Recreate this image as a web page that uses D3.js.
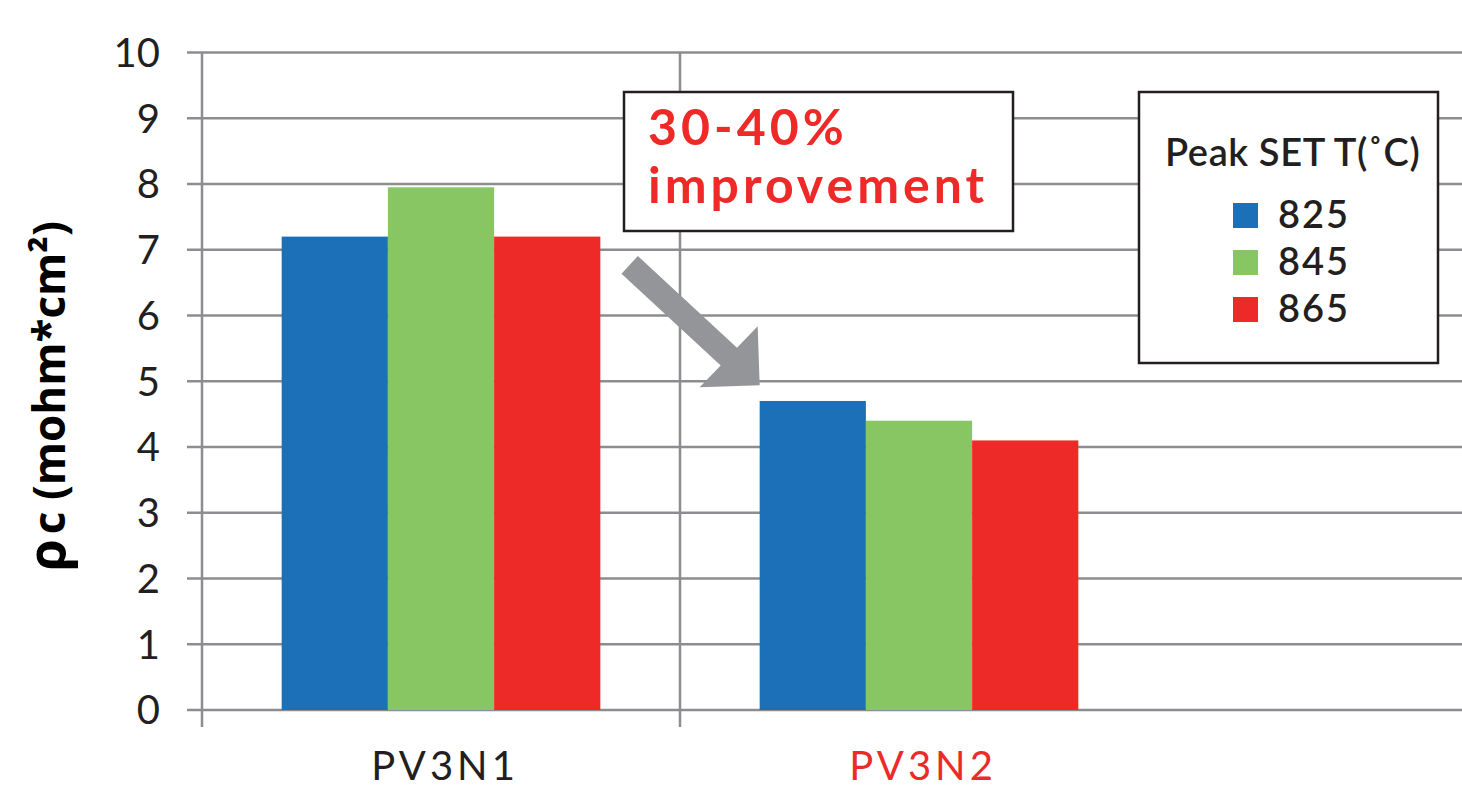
<!DOCTYPE html>
<html>
<head>
<meta charset="utf-8">
<script src="https://cdn.jsdelivr.net/npm/d3@7"></script>
<style>
  html, body { margin: 0; padding: 0; background: #fff; }
  svg { display: block; }
  text { font-family: Lato, "Open Sans", sans-serif; }
</style>
</head>
<body>
<svg id="chart" width="1462" height="788"></svg>
<script>
// ---- data ----
const categories = ["PV3N1", "PV3N2"];
const series = ["825", "845", "865"];
const values825 = [7.2, 4.7];
const values845 = [7.95, 4.4];
const values865 = [7.2, 4.1];
const yTicks = [0, 1, 2, 3, 4, 5, 6, 7, 8, 9, 10];
const legendTitle = "Peak SET T(\u02DAC)";
const annotationLines = ["30-40%", "improvement"];

const seriesValues = { "825": values825, "845": values845, "865": values865 };
const colors = { "825": "#1c70b7", "845": "#88c663", "865": "#ee2a28" };
const gridColor = "#8c8d90";

const svg = d3.select("#chart");
const W = 1462;

const y = d3.scaleLinear().domain([0, 10]).range([710, 52.5]);
const x = d3.scaleBand().domain(categories).range([202, 1158]).padding(0);
const bw = x.bandwidth();
const x1 = d3.scaleBand().domain(series).range([bw / 6, bw * 5 / 6]).padding(0);

// horizontal gridlines
svg.append("g").selectAll("line").data(yTicks).join("line")
  .attr("x1", 187).attr("x2", W)
  .attr("y1", d => y(d)).attr("y2", d => y(d))
  .attr("stroke", gridColor).attr("stroke-width", 2.5);

// vertical gridlines / category separators
svg.append("g").selectAll("line").data(categories).join("line")
  .attr("x1", d => x(d)).attr("x2", d => x(d))
  .attr("y1", y(10)).attr("y2", y(0) + 17)
  .attr("stroke", gridColor).attr("stroke-width", 2.5);

// y tick labels
svg.append("g").selectAll("text").data(yTicks).join("text")
  .attr("x", 160).attr("y", d => y(d)).attr("dy", "0.36em")
  .attr("text-anchor", "end")
  .attr("font-size", 40).attr("fill", "#231f20")
  .text(d => d);

// bars
const groups = svg.append("g").selectAll("g").data(categories).join("g")
  .attr("transform", d => `translate(${x(d)},0)`);
groups.selectAll("rect")
  .data((c, i) => series.map(s => ({ s, v: seriesValues[s][i] })))
  .join("rect")
  .attr("x", d => x1(d.s))
  .attr("width", x1.bandwidth())
  .attr("y", d => y(d.v))
  .attr("height", d => y(0) - y(d.v))
  .attr("fill", d => colors[d.s]);

// x labels
svg.append("g").selectAll("text").data(categories).join("text")
  .attr("x", d => x(d) + bw / 2 + 4)
  .attr("y", 780)
  .attr("text-anchor", "middle")
  .attr("font-size", 40)
  .attr("letter-spacing", 4)
  .attr("fill", (d, i) => i === 0 ? "#231f20" : "#ee2a28")
  .text(d => d);

// y axis title
const yt = svg.append("text")
  .attr("transform", `translate(65,${(y(0) + y(10)) / 2 + 15}) rotate(-90)`)
  .attr("text-anchor", "middle")
  .attr("font-size", 44).attr("font-weight", 700).attr("fill", "#000")
  .style("font-family", "'Open Sans', 'Noto Sans', sans-serif");
yt.append("tspan").attr("font-size", 52).text("\u03C1");
yt.append("tspan").attr("font-size", 44).attr("dx", 5).text("c");
yt.append("tspan").text(" (mohm*cm\u00B2)");

// annotation arrow (gray, pointing to PV3N2 bars)
const tipX = x("PV3N2") + x1("825") , tipY = y(4.94);
const sx = tipX - 130, sy = y(6.77);
const ang = Math.atan2(tipY - sy, tipX - sx);
const shaftHalf = 12;
const headLen = 60;
// head: right-angle corner at tip with legs horizontal & vertical
const hA = [tipX - headLen, tipY + 2];
const hB = [tipX - 2, tipY - headLen + 1];
const nx = -Math.sin(ang), ny = Math.cos(ang);
const baseX = tipX - 42 * Math.cos(ang), baseY = tipY - 42 * Math.sin(ang);
const arrowPts = [
  [sx + nx * shaftHalf, sy + ny * shaftHalf],
  [baseX + nx * shaftHalf, baseY + ny * shaftHalf],
  hA,
  [tipX, tipY],
  hB,
  [baseX - nx * shaftHalf, baseY - ny * shaftHalf],
  [sx - nx * shaftHalf, sy - ny * shaftHalf]
];
svg.append("path")
  .attr("d", d3.line()(arrowPts) + "Z")
  .attr("fill", "#939598");

// annotation box
svg.append("rect")
  .attr("x", 624).attr("y", 92).attr("width", 389).attr("height", 139)
  .attr("fill", "#fff").attr("stroke", "#231f20").attr("stroke-width", 2.5);
svg.append("g").selectAll("text").data(annotationLines).join("text")
  .attr("x", 648)
  .attr("y", (d, i) => 145 + i * 58)
  .attr("font-size", 50).attr("font-weight", 700)
  .attr("letter-spacing", 4)
  .attr("fill", "#ee2a28")
  .text(d => d);

// legend
const lg = svg.append("g");
lg.append("rect")
  .attr("x", 1139).attr("y", 92).attr("width", 299).attr("height", 271)
  .attr("fill", "#fff").attr("stroke", "#231f20").attr("stroke-width", 2.5);
lg.append("text")
  .attr("x", 1165).attr("y", 166)
  .attr("font-size", 38).attr("font-weight", 600).attr("letter-spacing", 0.6)
  .attr("fill", "#231f20")
  .text(legendTitle);
const items = lg.selectAll("g.item").data(series).join("g").attr("class", "item")
  .attr("transform", (d, i) => `translate(1233,${203 + i * 47})`);
items.append("rect").attr("width", 25).attr("height", 25).attr("fill", d => colors[d]);
items.append("text").attr("x", 45).attr("y", 25)
  .attr("font-size", 38).attr("font-weight", 600).attr("letter-spacing", 2)
  .attr("fill", "#231f20").text(d => d);
</script>
</body>
</html>
